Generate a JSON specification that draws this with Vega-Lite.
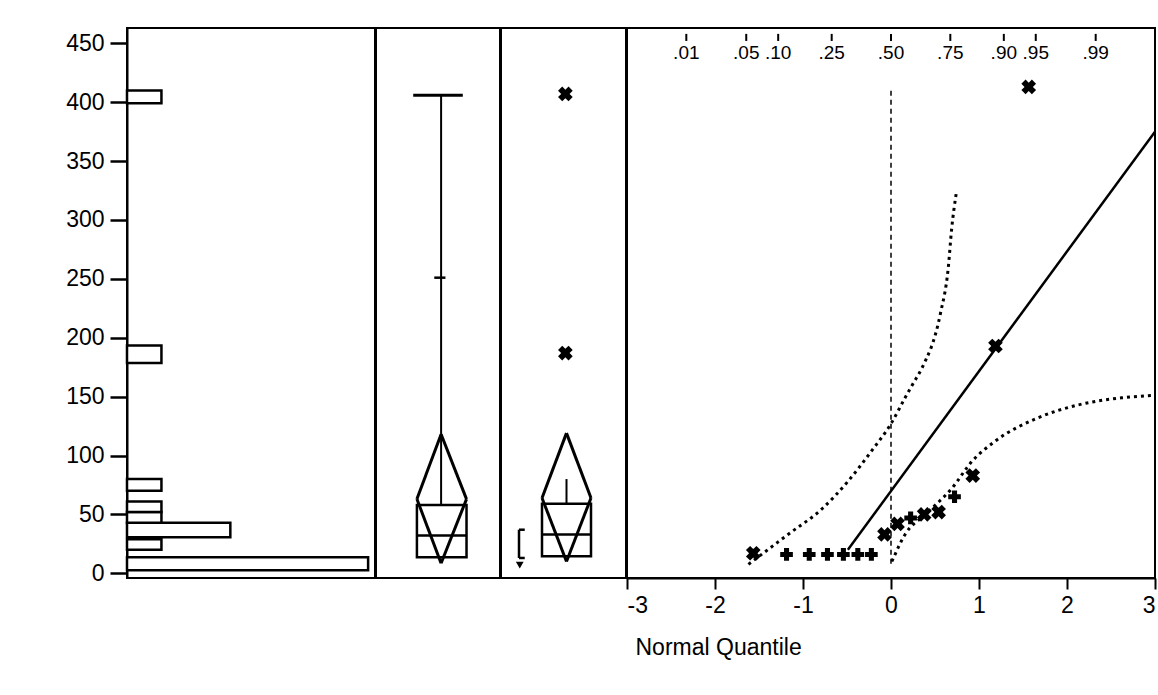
{
  "$schema": "https://vega.github.io/schema/vega-lite/v6.json",
  "padding": {"left": 64, "top": 27, "right": 4, "bottom": 0},
  "background": "white",
  "spacing": -2,
  "config": {
    "view": {"stroke": "black", "strokeWidth": 2},
    "font": "Liberation Sans",
    "axis": {"grid": false, "domainColor": "black", "domainWidth": 2, "tickColor": "black", "tickWidth": 2, "labelColor": "black", "labelFont": "Liberation Sans", "labelFontSize": 23, "titleFont": "Liberation Sans", "titleFontSize": 23, "titleFontWeight": "normal", "titleColor": "black"}
  },
  "resolve": {"scale": {"x": "independent", "y": "independent"}},
  "datasets": {
    "hist": [
      {"lo": 2.5, "hi": 13.6, "count": 7},
      {"lo": 20, "hi": 29, "count": 1},
      {"lo": 30.5, "hi": 43, "count": 3},
      {"lo": 43, "hi": 52, "count": 1},
      {"lo": 52, "hi": 61, "count": 1},
      {"lo": 70, "hi": 80, "count": 1},
      {"lo": 178.5, "hi": 193.5, "count": 1},
      {"lo": 399, "hi": 410, "count": 1}
    ],
    "box1": [{"q1": 13.6, "q3": 58, "median": 32, "mean": 63, "ciLo": 8.5, "ciHi": 118, "whiskerHi": 406, "tick": 251}],
    "box2": [{"q1": 14.4, "q3": 59, "median": 33, "mean": 64, "ciLo": 10, "ciHi": 119, "whiskerHi": 80, "bLo": 13, "bHi": 37, "vmark": 7}],
    "outliers": [{"v": 407}, {"v": 187}],
    "qlabels": [
      {"q": -2.326, "label": ".01"},
      {"q": -1.645, "label": ".05"},
      {"q": -1.282, "label": ".10"},
      {"q": -0.674, "label": ".25"},
      {"q": 0, "label": ".50"},
      {"q": 0.674, "label": ".75"},
      {"q": 1.282, "label": ".90"},
      {"q": 1.645, "label": ".95"},
      {"q": 2.326, "label": ".99"}
    ],
    "refline": [{"q": 0, "lo": 8, "hi": 412}],
    "upper": [
      {"q": -1.62, "v": 7.6}, {"q": -1.17, "v": 33}, {"q": -0.78, "v": 55}, {"q": -0.49, "v": 78},
      {"q": -0.22, "v": 104}, {"q": 0.0, "v": 127}, {"q": 0.16, "v": 149}, {"q": 0.25, "v": 161},
      {"q": 0.35, "v": 174}, {"q": 0.56, "v": 220}, {"q": 0.65, "v": 259}, {"q": 0.69, "v": 293}, {"q": 0.74, "v": 322}
    ],
    "lower": [
      {"q": 0.01, "v": 10}, {"q": 0.16, "v": 33}, {"q": 0.39, "v": 50}, {"q": 0.69, "v": 72},
      {"q": 0.92, "v": 95}, {"q": 1.18, "v": 112}, {"q": 1.67, "v": 132}, {"q": 2.13, "v": 143},
      {"q": 2.62, "v": 149}, {"q": 2.98, "v": 151}
    ],
    "fit": [{"q": -0.49, "v": 20}, {"q": 3, "v": 375}],
    "qq": [
      {"q": -1.565, "v": 17, "kind": "x"},
      {"q": -1.187, "v": 16, "kind": "plus"},
      {"q": -0.929, "v": 16, "kind": "plus"},
      {"q": -0.722, "v": 16, "kind": "plus"},
      {"q": -0.541, "v": 16, "kind": "plus"},
      {"q": -0.377, "v": 16, "kind": "plus"},
      {"q": -0.223, "v": 16, "kind": "plus"},
      {"q": -0.074, "v": 33, "kind": "x"},
      {"q": 0.074, "v": 42, "kind": "x"},
      {"q": 0.223, "v": 47, "kind": "plus"},
      {"q": 0.377, "v": 50, "kind": "x"},
      {"q": 0.541, "v": 52, "kind": "x"},
      {"q": 0.722, "v": 65, "kind": "plus"},
      {"q": 0.929, "v": 83, "kind": "x"},
      {"q": 1.187, "v": 193, "kind": "x"},
      {"q": 1.565, "v": 413, "kind": "x"}
    ]
  },
  "hconcat": [
    {
      "width": 248, "height": 550,
      "data": {"name": "hist"},
      "mark": {"type": "rect", "fill": "white", "stroke": "black", "strokeWidth": 2.5},
      "encoding": {
        "x": {"field": "count", "type": "quantitative", "scale": {"domain": [0, 7.2], "nice": false, "zero": false}, "axis": null},
        "x2": {"datum": 0},
        "y": {"field": "lo", "type": "quantitative", "scale": {"domain": [-4, 463], "nice": false, "zero": false},
              "axis": {"values": [0, 50, 100, 150, 200, 250, 300, 350, 400, 450], "tickSize": 17, "labelPadding": 6, "title": null, "tickWidth": 2.5}},
        "y2": {"field": "hi"}
      }
    },
    {
      "width": 124, "height": 550,
      "data": {"name": "box1"},
      "layer": [
        {"mark": {"type": "rect", "fillOpacity": 0, "stroke": "black", "strokeWidth": 2.5},
         "encoding": {"x": {"datum": 0.33, "type": "quantitative", "scale": {"domain": [0, 1], "nice": false}, "axis": null}, "x2": {"datum": 0.73},
                      "y": {"field": "q1", "type": "quantitative", "scale": {"domain": [-4, 463], "nice": false, "zero": false}, "axis": null}, "y2": {"field": "q3"}}},
        {"mark": {"type": "rule", "strokeWidth": 2.5, "color": "black"},
         "encoding": {"x": {"datum": 0.33, "type": "quantitative"}, "x2": {"datum": 0.73}, "y": {"field": "median", "type": "quantitative"}}},
        {"mark": {"type": "rule", "strokeWidth": 2, "color": "black"},
         "encoding": {"x": {"datum": 0.525, "type": "quantitative"}, "y": {"field": "q3", "type": "quantitative"}, "y2": {"field": "whiskerHi"}}},
        {"mark": {"type": "rule", "strokeWidth": 3, "color": "black"},
         "encoding": {"x": {"datum": 0.30, "type": "quantitative"}, "x2": {"datum": 0.70}, "y": {"field": "whiskerHi", "type": "quantitative"}}},
        {"mark": {"type": "rule", "strokeWidth": 2.5, "color": "black"},
         "encoding": {"x": {"datum": 0.47, "type": "quantitative"}, "x2": {"datum": 0.56}, "y": {"field": "tick", "type": "quantitative"}}},
        {"mark": {"type": "rule", "strokeWidth": 3, "color": "black"},
         "encoding": {"x": {"datum": 0.525, "type": "quantitative"}, "y": {"field": "ciHi", "type": "quantitative"}, "x2": {"datum": 0.33}, "y2": {"field": "mean"}}},
        {"mark": {"type": "rule", "strokeWidth": 3, "color": "black"},
         "encoding": {"x": {"datum": 0.33, "type": "quantitative"}, "y": {"field": "mean", "type": "quantitative"}, "x2": {"datum": 0.525}, "y2": {"field": "ciLo"}}},
        {"mark": {"type": "rule", "strokeWidth": 3, "color": "black"},
         "encoding": {"x": {"datum": 0.525, "type": "quantitative"}, "y": {"field": "ciLo", "type": "quantitative"}, "x2": {"datum": 0.73}, "y2": {"field": "mean"}}},
        {"mark": {"type": "rule", "strokeWidth": 3, "color": "black"},
         "encoding": {"x": {"datum": 0.73, "type": "quantitative"}, "y": {"field": "mean", "type": "quantitative"}, "x2": {"datum": 0.525}, "y2": {"field": "ciHi"}}}
      ]
    },
    {
      "width": 125, "height": 550,
      "layer": [
        {"data": {"name": "box2"}, "mark": {"type": "rect", "fillOpacity": 0, "stroke": "black", "strokeWidth": 2.5},
         "encoding": {"x": {"datum": 0.328, "type": "quantitative", "scale": {"domain": [0, 1], "nice": false}, "axis": null}, "x2": {"datum": 0.72},
                      "y": {"field": "q1", "type": "quantitative", "scale": {"domain": [-4, 463], "nice": false, "zero": false}, "axis": null}, "y2": {"field": "q3"}}},
        {"data": {"name": "box2"}, "mark": {"type": "rule", "strokeWidth": 2.5, "color": "black"},
         "encoding": {"x": {"datum": 0.328, "type": "quantitative"}, "x2": {"datum": 0.72}, "y": {"field": "median", "type": "quantitative"}}},
        {"data": {"name": "box2"}, "mark": {"type": "rule", "strokeWidth": 2, "color": "black"},
         "encoding": {"x": {"datum": 0.524, "type": "quantitative"}, "y": {"field": "q3", "type": "quantitative"}, "y2": {"field": "whiskerHi"}}},
        {"data": {"name": "box2"}, "mark": {"type": "rule", "strokeWidth": 3, "color": "black"},
         "encoding": {"x": {"datum": 0.524, "type": "quantitative"}, "y": {"field": "ciHi", "type": "quantitative"}, "x2": {"datum": 0.328}, "y2": {"field": "mean"}}},
        {"data": {"name": "box2"}, "mark": {"type": "rule", "strokeWidth": 3, "color": "black"},
         "encoding": {"x": {"datum": 0.328, "type": "quantitative"}, "y": {"field": "mean", "type": "quantitative"}, "x2": {"datum": 0.524}, "y2": {"field": "ciLo"}}},
        {"data": {"name": "box2"}, "mark": {"type": "rule", "strokeWidth": 3, "color": "black"},
         "encoding": {"x": {"datum": 0.524, "type": "quantitative"}, "y": {"field": "ciLo", "type": "quantitative"}, "x2": {"datum": 0.72}, "y2": {"field": "mean"}}},
        {"data": {"name": "box2"}, "mark": {"type": "rule", "strokeWidth": 3, "color": "black"},
         "encoding": {"x": {"datum": 0.72, "type": "quantitative"}, "y": {"field": "mean", "type": "quantitative"}, "x2": {"datum": 0.524}, "y2": {"field": "ciHi"}}},
        {"data": {"name": "box2"}, "mark": {"type": "rule", "strokeWidth": 2.5, "color": "black"},
         "encoding": {"x": {"datum": 0.144, "type": "quantitative"}, "y": {"field": "bLo", "type": "quantitative"}, "y2": {"field": "bHi"}}},
        {"data": {"name": "box2"}, "mark": {"type": "rule", "strokeWidth": 2.5, "color": "black"},
         "encoding": {"x": {"datum": 0.144, "type": "quantitative"}, "x2": {"datum": 0.19}, "y": {"field": "bLo", "type": "quantitative"}}},
        {"data": {"name": "box2"}, "mark": {"type": "rule", "strokeWidth": 2.5, "color": "black"},
         "encoding": {"x": {"datum": 0.144, "type": "quantitative"}, "x2": {"datum": 0.19}, "y": {"field": "bHi", "type": "quantitative"}}},
        {"data": {"name": "box2"}, "mark": {"type": "point", "shape": "triangle-down", "filled": true, "color": "black", "size": 60, "opacity": 1},
         "encoding": {"x": {"datum": 0.15, "type": "quantitative"}, "y": {"field": "vmark", "type": "quantitative"}}},
        {"data": {"name": "outliers"}, "mark": {"type": "point", "shape": "cross", "angle": 45, "filled": true, "color": "black", "size": 220, "opacity": 1},
         "encoding": {"x": {"datum": 0.515, "type": "quantitative"}, "y": {"field": "v", "type": "quantitative"}}}
      ]
    },
    {
      "width": 528, "height": 550,
      "layer": [
        {"data": {"name": "qlabels"}, "mark": {"type": "rule", "strokeWidth": 2, "color": "black"},
         "encoding": {"x": {"field": "q", "type": "quantitative", "scale": {"domain": [-3, 3], "nice": false, "zero": false},
                            "axis": {"values": [-3, -2, -1, 0, 1, 2, 3], "tickSize": 11, "labelPadding": 5, "labelExpr": "'' + datum.value",
                                     "title": "Normal Quantile", "titleAnchor": "start", "titleAlign": "left", "titleBaseline": "top", "titleX": 8, "titleY": 58}},
                      "y": {"datum": 452, "type": "quantitative", "scale": {"domain": [-4, 463], "nice": false, "zero": false}, "axis": null},
                      "y2": {"datum": 458}}},
        {"data": {"name": "qlabels"}, "mark": {"type": "text", "font": "Liberation Sans", "fontSize": 19, "baseline": "middle", "color": "black"},
         "encoding": {"x": {"field": "q", "type": "quantitative"}, "y": {"datum": 442, "type": "quantitative"}, "text": {"field": "label", "type": "nominal"}}},
        {"data": {"name": "refline"}, "mark": {"type": "rule", "strokeWidth": 1.5, "strokeDash": [5, 4], "color": "black"},
         "encoding": {"x": {"field": "q", "type": "quantitative"}, "y": {"field": "lo", "type": "quantitative"}, "y2": {"field": "hi"}}},
        {"data": {"name": "upper"}, "mark": {"type": "line", "strokeWidth": 3, "strokeDash": [3, 4], "color": "black", "interpolate": "monotone"},
         "encoding": {"x": {"field": "q", "type": "quantitative"}, "y": {"field": "v", "type": "quantitative"}}},
        {"data": {"name": "lower"}, "mark": {"type": "line", "strokeWidth": 3, "strokeDash": [3, 4], "color": "black", "interpolate": "monotone"},
         "encoding": {"x": {"field": "q", "type": "quantitative"}, "y": {"field": "v", "type": "quantitative"}}},
        {"data": {"name": "fit"}, "mark": {"type": "line", "strokeWidth": 2.5, "color": "black"},
         "encoding": {"x": {"field": "q", "type": "quantitative"}, "y": {"field": "v", "type": "quantitative"}}},
        {"data": {"name": "qq"}, "transform": [{"filter": "datum.kind === 'plus'"}],
         "mark": {"type": "point", "shape": "cross", "filled": true, "color": "black", "size": 160, "opacity": 1},
         "encoding": {"x": {"field": "q", "type": "quantitative"}, "y": {"field": "v", "type": "quantitative"}}},
        {"data": {"name": "qq"}, "transform": [{"filter": "datum.kind === 'x'"}],
         "mark": {"type": "point", "shape": "cross", "angle": 45, "filled": true, "color": "black", "size": 220, "opacity": 1},
         "encoding": {"x": {"field": "q", "type": "quantitative"}, "y": {"field": "v", "type": "quantitative"}}}
      ]
    }
  ]
}
